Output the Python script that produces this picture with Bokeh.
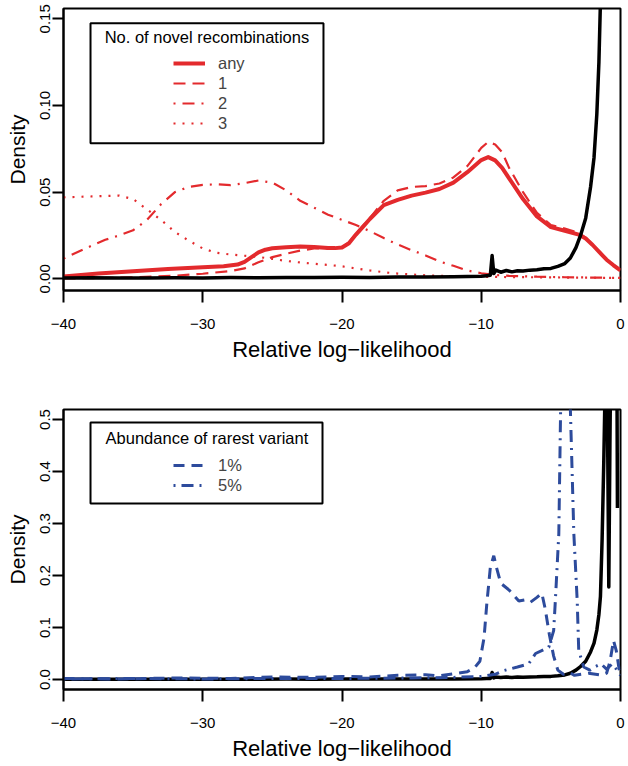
from bokeh.plotting import figure
from bokeh.layouts import column
from bokeh.models import (Range1d, FixedTicker, CustomJSTickFormatter, Legend, LegendItem,
                          BoxAnnotation, Label)
from bokeh.embed import file_html
from bokeh.resources import INLINE

# ---------------- data ----------------
x_ticks = [-40, -30, -20, -10, 0]
top_y_ticks = [0.0, 0.05, 0.10, 0.15]
bot_y_ticks = [0.0, 0.1, 0.2, 0.3, 0.4, 0.5]

x_any = [-40, -37.5, -35, -32.5, -30, -28.5, -27.5, -27, -26.5, -26, -25.5, -25, -24, -23, -22, -21,
         -20.5, -20, -19.5, -19, -18.5, -18, -17, -16, -15, -14, -13, -12, -11, -10, -9.5, -9, -8.5,
         -8, -7, -6, -5, -4, -3, -2.5, -2, -1.5, -1, -0.5, 0]
y_any = [0.0013, 0.003, 0.0044, 0.0057, 0.0067, 0.0073, 0.0082, 0.0098, 0.0125, 0.0152, 0.0168,
         0.0176, 0.0182, 0.0186, 0.0183, 0.0178, 0.0177, 0.0181, 0.0205, 0.0255, 0.030, 0.0345,
         0.0425, 0.0455, 0.048, 0.0497, 0.0518, 0.0555, 0.0615, 0.0685, 0.0702, 0.0683, 0.064,
         0.058, 0.046, 0.036, 0.0298, 0.0277, 0.0255, 0.0232, 0.0195, 0.0152, 0.011, 0.0078, 0.0048]

x_one = [-40, -37, -35, -32, -30, -28, -27, -26.5, -26, -25, -24, -23, -22, -21, -20.5, -20, -19.5,
         -19, -18.5, -18, -17, -16, -15, -14, -13, -12, -11, -10, -9.5, -9, -8.5, -8, -7, -6, -5,
         -4, -3, -2.5, -2, -1.5, -1, -0.5, 0]
y_one = [0.0002, 0.0005, 0.0008, 0.0018, 0.0029, 0.0045, 0.006, 0.0078, 0.0095, 0.0125, 0.0145,
         0.0163, 0.0175, 0.0175, 0.0176, 0.0182, 0.021, 0.026, 0.0305, 0.035, 0.045, 0.051, 0.053,
         0.0535, 0.055, 0.0585, 0.065, 0.0755, 0.079, 0.0775, 0.073, 0.064, 0.05, 0.038, 0.031,
         0.029, 0.0265, 0.0238, 0.0197, 0.0152, 0.011, 0.0078, 0.0048]

x_two = [-40, -38, -37, -36, -35, -34, -33, -32, -31, -30, -29, -28, -27, -26, -25, -24, -23, -22,
         -21, -20, -19, -18, -17, -16, -15, -14, -13, -12, -11, -10, -9, -8, -6, -4, -2, 0]
y_two = [0.0117, 0.019, 0.0225, 0.025, 0.028, 0.034, 0.043, 0.050, 0.053, 0.0542, 0.0545, 0.054,
         0.0552, 0.0567, 0.0555, 0.051, 0.045, 0.041, 0.037, 0.034, 0.031, 0.0275, 0.0235, 0.0198,
         0.0165, 0.0135, 0.010, 0.0075, 0.0048, 0.0032, 0.0022, 0.0017, 0.0012, 0.0009, 0.0007,
         0.0005]

x_three = [-40, -38, -37, -36, -35, -34, -33, -32, -31, -30, -29, -28, -27, -26, -25, -24, -23, -22,
           -21, -20, -19, -18, -17, -16, -15, -14, -12, -10, -8, -5, 0]
y_three = [0.047, 0.0475, 0.0478, 0.048, 0.046, 0.040, 0.034, 0.027, 0.022, 0.0175, 0.015, 0.014,
           0.0133, 0.0126, 0.0115, 0.0103, 0.0094, 0.0087, 0.008, 0.0072, 0.006, 0.0048, 0.0038,
           0.003, 0.0025, 0.002, 0.0015, 0.0012, 0.001, 0.0008, 0.0005]

x_all = [-40, -38, -36, -34, -32, -30, -28, -26, -24, -22, -20, -18, -16, -14, -12, -10, -9.6,
         -9.35, -9.22, -9.1, -8.95, -8.6, -8.2, -7.8, -7.4, -7, -6.5, -6, -5.5, -5, -4.5, -4, -3.6,
         -3.2, -2.87, -2.5, -2.15, -1.9, -1.7, -1.55, -1.44, -1.32, -1.2, -1.08, -1.0, -0.92, -0.84,
         -0.76, -0.6, -0.4, -0.3, -0.22]
y_all = [0.0004, 0.0006, 0.0004, 0.0005, 0.0006, 0.0005, 0.0007, 0.0006, 0.0008, 0.0007, 0.0009,
         0.0008, 0.001, 0.0011, 0.0012, 0.0015, 0.0018, 0.002, 0.0134, 0.003, 0.005, 0.0038, 0.0048,
         0.004, 0.0046, 0.0045, 0.005, 0.0052, 0.0058, 0.006, 0.0072, 0.0088, 0.012, 0.018, 0.025,
         0.035, 0.053, 0.07, 0.095, 0.125, 0.16, 0.27, 0.42, 0.6, 0.8, 0.45, 0.178, 0.45, 0.9, 1.1,
         0.9, 0.33]

x_p1 = [-40, -36, -32, -28, -25, -22, -20, -18, -16, -14, -13, -12, -11, -10.5, -10.1, -9.8, -9.6,
        -9.35, -9.1, -8.9, -8.6, -8.0, -7.6, -7.3, -6.9, -6.5, -6.0, -5.65, -5.4, -5.1, -4.8, -4.5,
        -4.1, -3.7, -3.3, -2.8, -2.3, -1.8, -1.3, -1.0, -0.75, -0.5, -0.3, -0.1, 0]
y_p1 = [0.002, 0.001, 0.003, 0.002, 0.005, 0.004, 0.006, 0.005, 0.008, 0.009, 0.007, 0.011, 0.015,
        0.022, 0.035, 0.08, 0.146, 0.215, 0.238, 0.215, 0.185, 0.172, 0.16, 0.151, 0.153, 0.148,
        0.158, 0.166, 0.135, 0.085, 0.045, 0.018, 0.01, 0.014, 0.008, 0.01, 0.012, 0.01, 0.008,
        0.012, 0.035, 0.075, 0.055, 0.02, 0.01]

x_p5 = [-40, -35, -30, -25, -20, -15, -12, -10, -9, -8.4, -7.4, -6.6, -6.1, -5.15, -4.8, -4.67,
        -4.43, -4.3, -4.0, -3.8, -3.6, -3.35, -3.11, -3.0, -2.64, -2.2, -1.8, -1.4, -1.0, -0.6,
        -0.3, 0]
y_p5 = [0.001, 0.002, 0.001, 0.002, 0.002, 0.003, 0.004, 0.006, 0.01, 0.017, 0.024, 0.03, 0.05,
        0.062, 0.094, 0.156, 0.28, 0.52, 0.9, 0.9, 0.52, 0.28, 0.152, 0.056, 0.024, 0.018, 0.025,
        0.03, 0.02, 0.03, 0.02, 0.008]

top_labels = ["any", "1", "2", "3"]
bot_labels = ["1%", "5%"]
top_legend_title = "No. of novel recombinations"
bot_legend_title = "Abundance of rarest variant"

# ---------------- style ----------------
RED = "#E32A2D"
BLUE = "#2D4B9C"
FONT = "Liberation Sans"

x_fmt = CustomJSTickFormatter(code="return tick < 0 ? '\u2212' + String(-tick) : String(tick);")


def make_fig(y_range, yticks, ydigits, min_top, frame_h, min_bottom):
    p = figure(width=None, height=None, frame_width=557, frame_height=frame_h,
               x_range=Range1d(-40, 0), y_range=y_range,
               output_backend="svg", toolbar_location=None,
               min_border_left=63, min_border_right=6,
               min_border_top=min_top, min_border_bottom=min_bottom)
    p.background_fill_color = "white"
    p.border_fill_color = "white"
    p.outline_line_color = "black"
    p.outline_line_width = 2
    p.xgrid.visible = False
    p.ygrid.visible = False
    p.xaxis.ticker = FixedTicker(ticks=x_ticks)
    p.xaxis.formatter = x_fmt
    p.yaxis.ticker = FixedTicker(ticks=yticks)
    p.yaxis.formatter = CustomJSTickFormatter(code="return tick.toFixed(%d);" % ydigits)
    for ax in (p.xaxis[0], p.yaxis[0]):
        ax.axis_line_width = 2
        ax.axis_line_color = "black"
        ax.major_tick_line_width = 2
        ax.major_tick_line_color = "black"
        ax.major_tick_in = 0
        ax.minor_tick_line_color = None
        ax.major_label_text_font = FONT
        ax.major_label_text_color = "black"
        ax.major_label_text_font_size = "15px"
        ax.axis_label_text_font = FONT
        ax.axis_label_text_font_style = "normal"
        ax.axis_label_text_color = "black"
    p.xaxis.major_tick_out = 12
    p.xaxis.major_label_standoff = 16
    p.xaxis.axis_label_standoff = 5
    p.xaxis.axis_label_text_font_size = "22px"
    p.xaxis.axis_label = "Relative log\u2212likelihood"
    p.yaxis.major_tick_out = 11
    p.yaxis.major_label_standoff = 2
    p.yaxis.axis_label_standoff = 9
    p.yaxis.axis_label_text_font_size = "21px"
    p.yaxis.major_label_orientation = "vertical"
    p.yaxis.axis_label = "Density"
    return p


def add_legend(p, renderers, labels, title, box, title_xy, vy):
    left, right, top, bottom = box
    p.add_layout(BoxAnnotation(left=left, right=right, top=top, bottom=bottom,
                               fill_color="white", fill_alpha=1.0,
                               line_color="black", line_alpha=1.0, line_width=2))
    p.add_layout(Label(x=title_xy[0], y=title_xy[1], text=title, text_font=FONT,
                       text_font_size="16.5px", text_align="center", text_baseline="middle",
                       text_color="black"))
    leg = Legend(items=[LegendItem(label=l, renderers=[r]) for l, r in zip(labels, renderers)],
                 location=(110, vy), padding=0, margin=0, spacing=0,
                 glyph_width=32, glyph_height=20, label_height=20, label_standoff=13,
                 label_text_font=FONT, label_text_font_size="16.5px",
                 border_line_color=None, background_fill_alpha=0)
    p.add_layout(leg)


# ---------------- top panel ----------------
p1 = make_fig(Range1d(-0.00675, 0.15594), top_y_ticks, 2, 8, 282, 76)
r_any = p1.line(x_any, y_any, line_color=RED, line_width=4, line_join="round")
r_one = p1.line(x_one, y_one, line_color=RED, line_width=2.2, line_dash="12 7")
r_two = p1.line(x_two, y_two, line_color=RED, line_width=2.2, line_dash="2 7 12 7")
r_three = p1.line(x_three, y_three, line_color=RED, line_width=2.2, line_dash="2 7")
p1.line(x_all, y_all, line_color="black", line_width=3.5, line_join="round")
add_legend(p1, [r_any, r_one, r_two, r_three], top_labels, top_legend_title,
           (-38.06, -21.33, 0.14746, 0.07821), (-29.7, 0.13938), 157)

# ---------------- bottom panel ----------------
p2 = make_fig(Range1d(-0.01923, 0.51923), bot_y_ticks, 1, 43, 280, 76)
p2.line(x_all, y_all, line_color="black", line_width=3.5, line_join="round")
r_p1 = p2.line(x_p1, y_p1, line_color=BLUE, line_width=3, line_dash="11 7")
r_p5 = p2.line(x_p5, y_p5, line_color=BLUE, line_width=3, line_dash="2 6 12 6")
add_legend(p2, [r_p1, r_p5], bot_labels, bot_legend_title,
           (-38.06, -21.40, 0.4942, 0.3385), (-29.7, 0.4635), 194)

layout = column(p1, p2, spacing=0)

with open("out.html", "w") as f:
    f.write(file_html(layout, INLINE))
